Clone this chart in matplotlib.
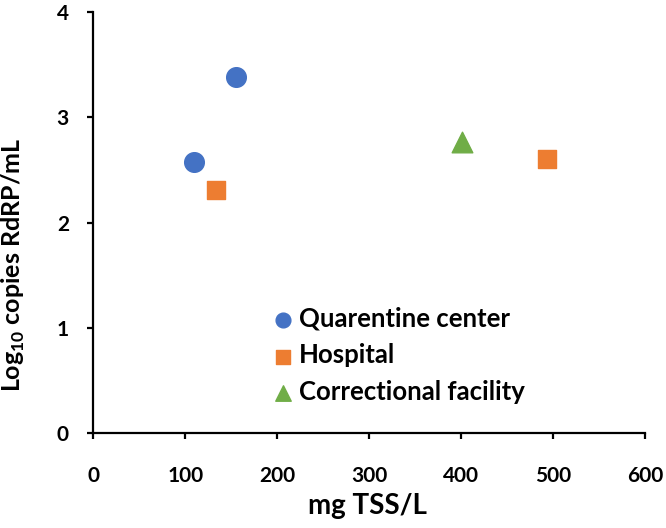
import matplotlib.pyplot as plt

plt.rcParams['font.family'] = ['Lato', 'DejaVu Sans']
plt.rcParams['font.weight'] = 'bold'
plt.rcParams['mathtext.fontset'] = 'custom'
plt.rcParams['mathtext.rm'] = 'Lato:bold'
plt.rcParams['mathtext.bf'] = 'Lato:bold'

quarantine_x = [109, 155]
quarantine_y = [2.58, 3.38]
hospital_x = [133, 493]
hospital_y = [2.31, 2.60]
correctional_x = [401]
correctional_y = [2.77]

fig = plt.figure(figsize=(6.66, 5.28), dpi=100)
ax = fig.add_axes([0.14, 0.18, 0.829, 0.797])

ax.scatter(quarantine_x, quarantine_y, s=200, marker='o', color='#4472C4',
           label='Quarentine center', zorder=3)
ax.scatter(hospital_x, hospital_y, s=180, marker='s', color='#ED7D31',
           label='Hospital', zorder=3)
ax.scatter(correctional_x, correctional_y, s=220, marker='^', color='#70AD47',
           label='Correctional facility', zorder=3)

ax.set_xlim(0, 600)
ax.set_ylim(0, 4)
ax.set_xticks(range(0, 601, 100))
ax.set_yticks(range(0, 5))

for side in ['top', 'right']:
    ax.spines[side].set_visible(False)
for side in ['left', 'bottom']:
    ax.spines[side].set_linewidth(1.6)
ax.tick_params(width=1.6, length=4.5, labelsize=15)
ax.tick_params(axis='x', pad=19)
ax.tick_params(axis='y', pad=13)
for lbl in ax.get_xticklabels() + ax.get_yticklabels():
    lbl.set_fontweight('bold')

ax.set_xlabel('mg TSS/L', fontsize=20, fontweight='bold')
ax.set_ylabel('Log$_{10}$ copies RdRP/mL', fontsize=18, fontweight='bold')
ax.xaxis.set_label_coords(0.496, -0.142)
ax.yaxis.set_label_coords(-0.12, 0.40)

ax.legend(loc='upper left', bbox_to_anchor=(0.3, 0.325), frameon=False,
          fontsize=18.5, handletextpad=0.05, labelspacing=0.5, markerscale=0.75,
          borderaxespad=0, handlelength=1.1)

fig.savefig('out.png')
